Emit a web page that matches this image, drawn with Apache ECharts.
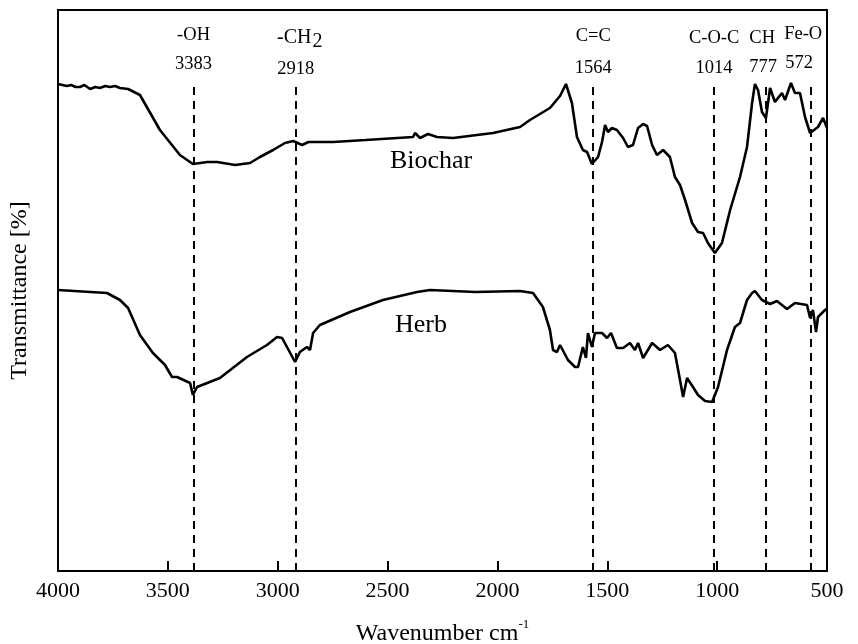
<!DOCTYPE html>
<html><head><meta charset="utf-8">
<script src="https://cdn.jsdelivr.net/npm/echarts@6/dist/echarts.min.js"></script>
<style>html,body{margin:0;padding:0;background:#fff}#c{width:858px;height:644px}</style>
</head><body><div id="c"></div>
<script>
// Wavenumbers (cm^-1) and transmittance (arbitrary offset units)
const biocharWave = [4000,3960,3940,3920,3900,3880,3854,3830,3809,3785,3763,3740,3718,3681,3627,3536,3445,3386,3320,3276,3194,3126,3081,3021,2967,2930,2889,2860,2839,2748,2600,2384,2375,2352,2316,2275,2202,2020,1897,1852,1761,1715,1688,1661,1638,1611,1592,1570,1542,1524,1510,1497,1479,1456,1428,1406,1383,1360,1337,1319,1296,1274,1246,1215,1192,1169,1146,1114,1087,1064,1042,1010,978,941,896,864,841,828,814,796,778,759,737,705,691,664,646,623,600,577,541,518,500];
const biocharT    = [48.7,48.5,48.6,48.4,48.4,48.6,48.2,48.4,48.3,48.5,48.4,48.5,48.3,48.2,47.6,44.1,41.6,40.7,40.9,40.9,40.6,40.8,41.4,42.1,42.8,43.0,42.6,42.9,42.9,42.9,43.1,43.4,43.8,43.3,43.7,43.4,43.3,43.8,44.4,45.1,46.3,47.5,48.7,46.8,43.4,42.1,41.9,40.7,41.4,42.9,44.6,43.9,44.3,44.1,43.3,42.4,42.6,44.3,44.7,44.5,42.6,41.6,42.1,41.4,39.4,38.6,37.1,34.8,33.9,33.8,32.8,31.8,32.8,36.1,39.4,42.4,46.8,48.7,48.1,45.9,45.3,48.3,46.9,47.8,47.1,48.8,47.8,47.8,45.4,43.8,44.4,45.3,44.3];
const herbWave = [4000,3777,3718,3681,3627,3568,3513,3481,3458,3399,3386,3367,3263,3140,3049,3003,2980,2921,2899,2867,2853,2839,2808,2671,2521,2366,2307,2100,1897,1838,1793,1761,1747,1729,1715,1679,1647,1633,1611,1597,1588,1570,1556,1524,1501,1483,1456,1428,1397,1374,1360,1337,1296,1260,1224,1192,1169,1155,1137,1110,1087,1055,1023,996,955,919,896,864,841,828,796,759,728,682,646,591,577,564,550,541,509,500];
const herbT    = [28.1,27.8,27.1,26.3,23.6,21.8,20.6,19.4,19.4,18.8,17.6,18.4,19.3,21.4,22.6,23.4,23.3,20.9,21.9,22.4,22.1,23.8,24.6,25.9,27.1,27.9,28.1,27.9,28.0,27.8,26.4,24.1,22.1,21.9,22.6,21.1,20.4,20.4,22.4,21.3,23.8,22.4,23.8,23.8,23.3,23.8,22.3,22.3,22.8,22.1,22.8,21.3,22.8,22.1,22.6,21.8,19.1,17.4,19.3,18.4,17.6,17.0,16.9,18.4,22.1,24.4,24.8,27.1,27.8,28.0,27.1,26.7,27.0,26.2,26.8,26.6,25.3,26.1,23.9,25.4,26.1,26.2];
// Band assignments
const bandNames = ['-OH','-CH2','C=C','C-O-C','CH','Fe-O'];
const bandWaves = [3383,2918,1564,1014,777,572];
const xTicks = [4000,3500,3000,2500,2000,1500,1000,500];

const FONT = "'Liberation Serif','Times New Roman',serif";
const chart = echarts.init(document.getElementById('c'), null, {renderer:'canvas'});
const zip = (a,b)=>a.map((v,i)=>[v,b[i]]);
const lineTop = 48.4;

chart.setOption({
  backgroundColor:'#fff',
  animation:false,
  grid:{left:58,right:31,top:10,bottom:73,show:true,borderColor:'#000',borderWidth:2,
        containLabel:false,outerBoundsMode:'none'},
  xAxis:{
    type:'value', inverse:true, min:500, max:4000, interval:500,
    axisLine:{show:true,onZero:false,lineStyle:{color:'#000',width:2}},
    axisTick:{show:true,inside:true,length:10,lineStyle:{color:'#000',width:2}},
    axisLabel:{color:'#000',fontFamily:FONT,fontSize:22,margin:9,
      formatter:v=>xTicks.includes(v)?String(v):''},
    splitLine:{show:false},
    name:'{a|Wavenumber cm}{b|-1}', nameLocation:'middle', nameGap:47,
    nameTextStyle:{rich:{a:{fontFamily:FONT,fontSize:24,color:'#000',lineHeight:28,verticalAlign:'bottom'},
                         b:{fontFamily:FONT,fontSize:13,color:'#000',verticalAlign:'top',lineHeight:28}}}
  },
  yAxis:{
    type:'value', min:0, max:56.1,
    axisLine:{show:true,lineStyle:{color:'#000',width:2}},
    axisTick:{show:false}, axisLabel:{show:false}, splitLine:{show:false},
    name:'Transmittance [%]', nameLocation:'middle', nameGap:26,
    nameTextStyle:{fontFamily:FONT,fontSize:24,color:'#000'}
  },
  series:[
    {name:'Biochar',type:'line',data:zip(biocharWave,biocharT),showSymbol:false,symbol:'none',
     lineStyle:{color:'#000',width:2.6},
     markLine:{silent:true,symbol:'none',label:{show:false},
       lineStyle:{color:'#000',width:2,type:[8,6]},
       data:bandWaves.map(w=>[{coord:[w,lineTop]},{coord:[w,0]}])}},
    {name:'Herb',type:'line',data:zip(herbWave,herbT),showSymbol:false,symbol:'none',
     lineStyle:{color:'#000',width:2.6}}
  ]
});

// annotations positioned from data coordinates
const px = (w,t)=>chart.convertToPixel({gridIndex:0},[w,t]);
const labelRows = [
  {dy:[37,64],offs:[0,0]},
  {dy:[40,69],offs:[4,0]},
  {dy:[38,68],offs:[0,0]},
  {dy:[40,68],offs:[0,0]},
  {dy:[40,67],offs:[-4,-3]},
  {dy:[36,63],offs:[-8,-12]}
];
const g = [];
bandNames.forEach((n,i)=>{
  const x = px(bandWaves[i],0)[0];
  const r = labelRows[i];
  const big = n==='-CH2';
  const nameText = big ? '{c|-CH}{s|2}' : '{a|'+n+'}';
  g.push({type:'text',x:x+r.offs[0],y:r.dy[0],style:{text:nameText,align:'center',verticalAlign:'middle',
    rich:{a:{fontFamily:FONT,fontSize:18.5,fill:'#000',lineHeight:22,verticalAlign:'top'},
          c:{fontFamily:FONT,fontSize:20,fill:'#000',lineHeight:24,verticalAlign:'top'},
          s:{fontFamily:FONT,fontSize:20,fill:'#000',lineHeight:24,verticalAlign:'bottom',padding:[8,0,0,1]}}}});
  g.push({type:'text',x:x+r.offs[1],y:r.dy[1],style:{text:String(bandWaves[i]),align:'center',verticalAlign:'middle',
    fontFamily:FONT,fontSize:18.5,fill:'#000'}});
});
const bp = px(2302,0), hp = px(2348,0);
g.push({type:'text',x:bp[0],y:161,style:{text:'Biochar',align:'center',verticalAlign:'middle',fontFamily:FONT,fontSize:26,fill:'#000'}});
g.push({type:'text',x:hp[0],y:325,style:{text:'Herb',align:'center',verticalAlign:'middle',fontFamily:FONT,fontSize:26,fill:'#000'}});
chart.setOption({graphic:g});
</script>
</body></html>
